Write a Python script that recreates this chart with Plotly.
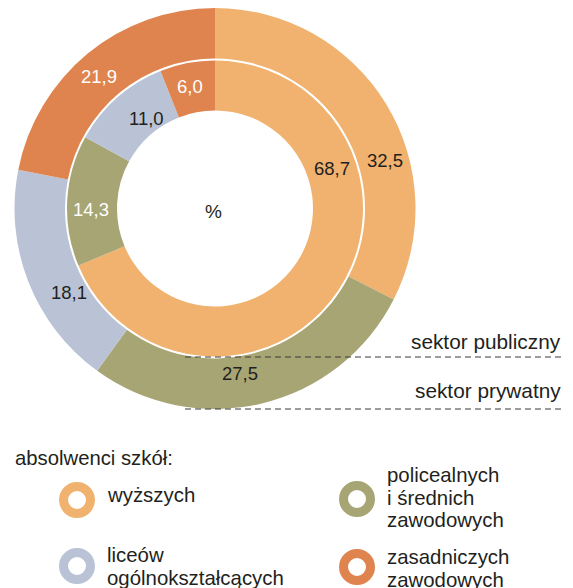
import plotly.graph_objects as go

# ---- data ----
categories = ["wyższych", "policealnych i średnich zawodowych",
              "liceów ogólnokształcących", "zasadniczych zawodowych"]
public_sector = [68.7, 14.3, 11.0, 6.0]     # inner ring
private_sector = [32.5, 27.5, 18.1, 21.9]   # outer ring
legend_lines = [["wyższych"], ["policealnych", "i średnich", "zawodowych"],
                ["liceów", "ogólnokształcących"], ["zasadniczych", "zawodowych"]]
sector_labels = ["sektor publiczny", "sektor prywatny"]
legend_title = "absolwenci szkół:"

# ---- styles ----
colors = ["#F0B26E", "#A8A574", "#B9C3D5", "#E0844F"]
dark = "#231F20"
W, H = 573, 588
FONT = "Liberation Sans, Arial, sans-serif"

cx, cy = 215, 208.5
r_out, r_out_hole = 200.5, 150
r_in, r_in_hole = 148, 98


def dom(r):
    return dict(x=[(cx - r) / W, (cx + r) / W],
                y=[(H - cy - r) / H, (H - cy + r) / H])


fig = go.Figure()
fig.add_trace(go.Pie(values=private_sector, labels=categories, sort=False,
                     direction="clockwise", rotation=0, hole=r_out_hole / r_out,
                     marker=dict(colors=colors, line=dict(width=0)),
                     textinfo="none", hoverinfo="label+value",
                     domain=dom(r_out), showlegend=False))
fig.add_trace(go.Pie(values=public_sector, labels=categories, sort=False,
                     direction="clockwise", rotation=0, hole=r_in_hole / r_in,
                     marker=dict(colors=colors, line=dict(width=0)),
                     textinfo="none", hoverinfo="label+value",
                     domain=dom(r_in), showlegend=False))


def fmt(v):
    return f"{v:.1f}".replace(".", ",")


# value label positions (layout only)
outer_pos = [(385, 160), (240, 373), (69, 292), (99, 76)]
inner_pos = [(332, 168), (91, 209), (146, 118), (190, 86)]
outer_col = [dark, dark, dark, "white"]
inner_col = [dark, "white", dark, "white"]

ann = []
for vals, pos, cols in [(private_sector, outer_pos, outer_col),
                        (public_sector, inner_pos, inner_col)]:
    for v, (x, y), c in zip(vals, pos, cols):
        ann.append(dict(x=x, y=y, xref="x", yref="y", text=fmt(v), showarrow=False,
                        font=dict(family=FONT, size=18.5, color=c),
                        xanchor="center", yanchor="middle"))
ann.append(dict(x=213, y=211, xref="x", yref="y", text="%", showarrow=False,
                font=dict(family=FONT, size=19, color=dark)))

# sector labels and dashed lines
shapes = []
for lbl, ly, dy in zip(sector_labels, [341, 390], [357, 409]):
    ann.append(dict(x=563, y=ly, xref="x", yref="y", text=lbl, showarrow=False,
                    xanchor="right", yanchor="middle",
                    font=dict(family=FONT, size=20.8, color=dark)))
    shapes.append(dict(type="line", xref="paper", yref="paper",
                       x0=185 / W, x1=562 / W, y0=1 - dy / H, y1=1 - dy / H,
                       line=dict(color="#3a3a3a", width=1.2, dash="6px,4px"),
                       layer="above"))

# legend
ann.append(dict(x=13, y=458, xref="x", yref="y", text=legend_title, showarrow=False,
                xanchor="left", yanchor="middle",
                font=dict(family=FONT, size=20.3, color=dark)))
ring_pos = [(77, 500), (357, 499), (77, 566), (357, 567)]
text_y0 = [495, 475, 555, 557]
for cat_lines, col, (rx, ry), ty in zip(legend_lines, colors, ring_pos, text_y0):
    fig.add_trace(go.Scatter(x=[rx], y=[ry], mode="markers", showlegend=False,
                             hoverinfo="skip",
                             marker=dict(size=27, color="white",
                                         line=dict(color=col, width=9))))
    for i, line in enumerate(cat_lines):
        ann.append(dict(x=rx + 28, y=ty + 22.5 * i, xref="x", yref="y", text=line,
                        showarrow=False, xanchor="left", yanchor="middle",
                        font=dict(family=FONT, size=20.4, color=dark)))

fig.update_layout(
    width=W, height=H, margin=dict(l=0, r=0, t=0, b=0),
    paper_bgcolor="white", plot_bgcolor="white",
    xaxis=dict(range=[0, W], visible=False, domain=[0, 1], fixedrange=True),
    yaxis=dict(range=[H, 0], visible=False, domain=[0, 1], fixedrange=True),
    annotations=ann, shapes=shapes, showlegend=False,
)
fig.write_html("out.html", config={"displayModeBar": False},
               post_script="document.body.style.margin='0px';")
